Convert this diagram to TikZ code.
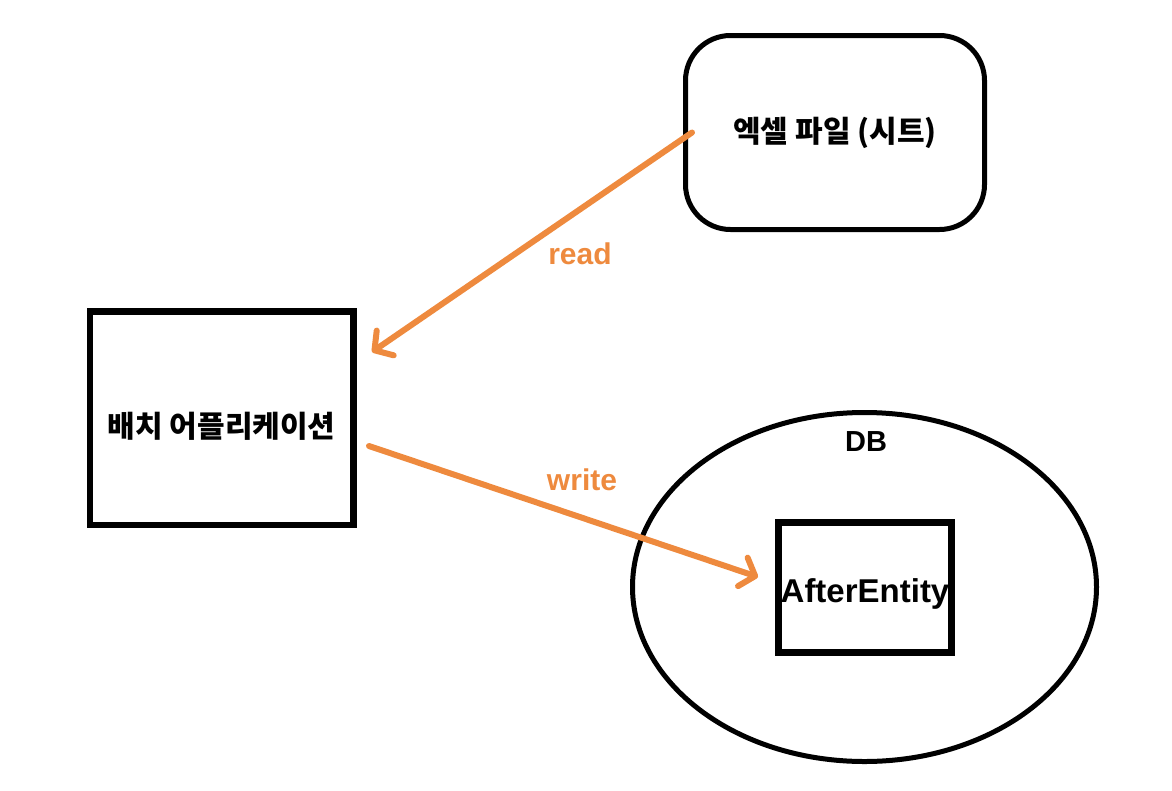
\documentclass[tikz,border=0pt]{standalone}
\usepackage{fontspec}
\setmainfont{Liberation Sans}
\newfontfamily\kofont{Noto Sans CJK KR}
\usetikzlibrary{shapes.geometric,arrows.meta,positioning}
\definecolor{flowcol}{RGB}{238,138,62}
\tikzset
{
    appbox/.style   = {rectangle, draw=black, line width=6.5pt, inner sep=0pt, font=\kofont\bfseries\fontsize{30}{33}\selectfont},
    filebox/.style  = {rectangle, rounded corners=45pt, draw=black, line width=5pt, inner sep=0pt, font=\kofont\bfseries\fontsize{30}{33}\selectfont},
    dbshape/.style  = {ellipse, draw=black, line width=5pt, inner sep=0pt},
    entitybox/.style= {rectangle, draw=black, line width=6.5pt, inner sep=0pt, font=\bfseries\fontsize{33}{36}\selectfont},
    flow/.style     = {draw=flowcol, line width=6pt, line cap=round, -{Straight Barb[length=13pt,width=30pt,round]}},
    flowlabel/.style= {text=flowcol, font=\bfseries\fontsize{30}{33}\selectfont, inner sep=0pt}
}
\begin{document}
\begin{tikzpicture}[x=1pt,y=-1pt]
\useasboundingbox (0,0) rectangle (1172,790);
\node [filebox, minimum width=299pt, minimum height=194pt] at (835,132.5) (excel) {엑셀 파일 (시트)};
\node [appbox, minimum width=263.5pt, minimum height=213.5pt] at (221.75,418.25) (batch) {\raisebox{-19pt}[0pt][0pt]{배치 어플리케이션}};
\node [dbshape, minimum width=464pt, minimum height=349pt] at (864.5,587) (db) {};
\node [font=\bfseries\fontsize{29}{30}\selectfont, inner sep=0pt] at (866,442) (dblabel) {DB};
\node [entitybox, minimum width=173pt, minimum height=130pt] at (865,587.5) (entity) {\raisebox{-14.5pt}[0pt][0pt]{AfterEntity}};
\coordinate (readend) at (372,352);
\coordinate (writestart) at (369,446);
\coordinate (writeend) at (758,577);
\node [flowlabel] at (580,254) (readlabel) {read};
\node [flowlabel] at (582,480) (writelabel) {write};
\draw [flow] ([xshift=9pt]excel.west) -- (readend);
\draw [flow] (writestart) -- (writeend);
\end{tikzpicture}
\end{document}
